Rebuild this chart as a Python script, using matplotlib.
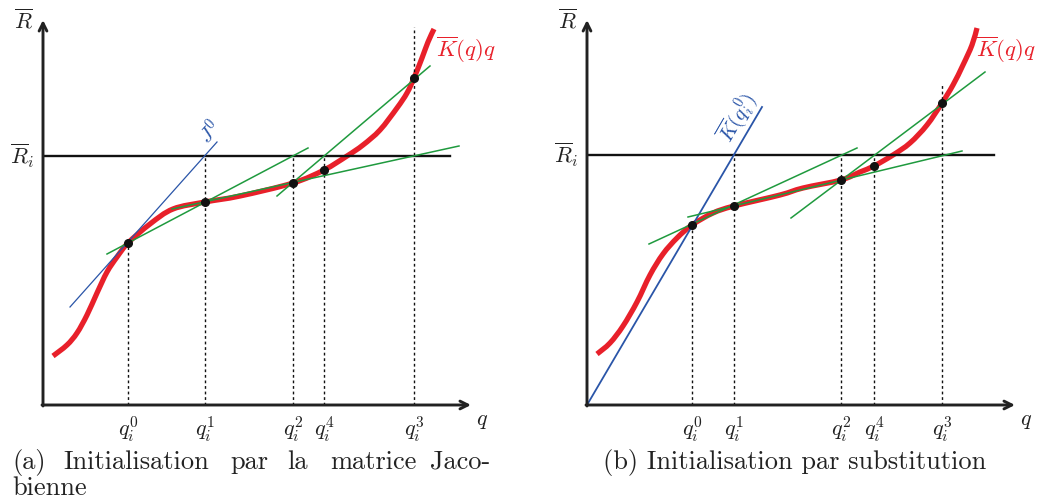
import numpy as np
import matplotlib.pyplot as plt
from matplotlib.path import Path
from matplotlib.patches import PathPatch

plt.rcParams['mathtext.fontset'] = 'cm'

# courbe K(q)q, panneau (a) : (q, R)
curve_a_q = [10, 24, 34, 44, 54, 64, 74, 85, 107, 130, 162, 197, 250, 281, 304, 320, 337, 354, 364, 371, 379, 385, 391]
curve_a_r = [49, 60, 72, 90, 112, 133, 148, 162, 181, 196, 203, 209, 222, 235, 249, 260, 275, 297, 312, 327, 347, 363, 376]
# courbe K(q)q, panneau (b)
curve_b_q = [10, 23, 36, 50, 63, 76, 90, 105, 126, 147, 193, 216, 254, 273, 287, 306, 323, 340, 355, 366, 376, 385, 390]
curve_b_r = [51, 62, 79, 103, 130, 151, 167, 180, 192, 199, 210, 217, 225, 233, 239, 250, 262, 280, 302, 320, 340, 360, 377]

iter_labels = ['$q_i^0$', '$q_i^1$', '$q_i^2$', '$q_i^4$', '$q_i^3$']
# itérés q_i^k, valeur sur la courbe, hauteur du pointillé
iter_a_q = [85, 162, 250, 281, 371]
iter_a_r = [162, 203, 222, 235, 327]
iter_a_top = [162, 249, 249, 249, 378]
iter_b_q = [105, 147, 254, 287, 355]
iter_b_r = [180, 199, 225, 239, 302]
iter_b_top = [180, 250, 250, 250, 322]

r_bar_a = 249
r_bar_b = 250

# droites bleues (J0 / K(q_i^0))
blue_a = ([27, 174], [98, 263])
blue_b = ([0, 175], [0, 298])
# droites vertes (sécantes)
green_a = [([64, 265], [151, 257]), ([129, 416], [196, 259]), ([234, 387], [209, 339])]
green_b = [([62, 270], [161, 257]), ([101, 375], [188, 254]), ([204, 398], [187, 333])]

RED = '#e8202a'
GREEN = '#1f9a3e'
BLUE = '#2a55a8'
AX = '#222222'

fig = plt.figure(figsize=(10.38, 5.01), dpi=100)


def smooth_path(xs, ys):
    # courbe de Bézier passant par les points lus (tangentes Catmull-Rom)
    p = np.column_stack([xs, ys]).astype(float)
    verts = [p[0]]
    codes = [Path.MOVETO]
    for i in range(len(p) - 1):
        p0 = p[max(i - 1, 0)]
        p1, p2 = p[i], p[i + 1]
        p3 = p[min(i + 2, len(p) - 1)]
        verts += [p1 + (p2 - p0) / 6, p2 - (p3 - p1) / 6, p2]
        codes += [Path.CURVE4] * 3
    return Path(verts, codes)


def panel(left, cq, cr, iq, ir, itop, rbar, blue, blue_lw, greens, blue_text, blue_pos, blue_rot, k_x):
    ax = fig.add_axes([left / 1038, 96 / 501, 440 / 1038, 395 / 501])
    ax.set_xlim(0, 440)
    ax.set_ylim(0, 395)
    ax.axis('off')
    # axes avec flèches
    ax.annotate('', xy=(0, 385), xytext=(0, -1),
                arrowprops=dict(arrowstyle='->', lw=2.1, color=AX, shrinkA=0, shrinkB=0,
                                mutation_scale=14))
    ax.annotate('', xy=(428, 0), xytext=(-1, 0),
                arrowprops=dict(arrowstyle='->', lw=2.1, color=AX, shrinkA=0, shrinkB=0,
                                mutation_scale=14))
    ax.plot([0, 407], [rbar, rbar], color='#111111', lw=1.7)
    for x, top in zip(iq, itop):
        ax.plot([x, x], [0, top], color='#111111', lw=1, ls=(0, (2, 2)))
    ax.plot(blue[0], blue[1], color=BLUE, lw=blue_lw)
    ax.add_patch(PathPatch(smooth_path(cq, cr), facecolor='none', edgecolor=RED,
                           lw=3.8, capstyle='butt'))
    for gx, gy in greens:
        ax.plot(gx, gy, color=GREEN, lw=1.1)
    ax.plot(iq, ir, 'o', color='#111111', ms=5.5)
    for x, lab in zip(iq, iter_labels):
        ax.text(x, -9, lab, ha='center', va='top', fontsize=16, color='#222222')
    ax.text(433, -6, '$q$', ha='left', va='top', fontsize=16, color='#222222')
    ax.text(-10, 385, r'$\overline{R}$', ha='right', va='center', fontsize=16, color='#222222')
    ax.text(-8, rbar, r'$\overline{R}_i$', ha='right', va='center', fontsize=16, color='#222222')
    ax.text(k_x, 355, r'$\overline{K}(q)q$', ha='left', va='center', fontsize=16.5, color=RED)
    ax.text(blue_pos[0], blue_pos[1], blue_text, ha='center', va='center', fontsize=15,
            color=BLUE, rotation=blue_rot, rotation_mode='anchor')
    return ax


panel(43, curve_a_q, curve_a_r, iter_a_q, iter_a_r, iter_a_top, r_bar_a,
      blue_a, 0.9, green_a, '$J^0$', (167, 273), 48, 393)
panel(587, curve_b_q, curve_b_r, iter_b_q, iter_b_r, iter_b_top, r_bar_b,
      blue_b, 1.3, green_b, r'$\overline{K}(q_i^0)$', (150, 288), 60, 389)

cap = dict(fontsize=19, family='cmr10', color='#222222', va='center')
words = ['(a)', 'Initialisation', 'par', 'la', 'matrice', 'Jaco-']
word_x = [12, 63, 230, 287, 330, 430]
for w, x in zip(words, word_x):
    fig.text(x / 1038, 1 - 462 / 501, w, ha='left', **cap)
fig.text(12 / 1038, 1 - 488 / 501, 'bienne', ha='left', **cap)
fig.text(795 / 1038, 1 - 462 / 501, '(b) Initialisation par substitution', ha='center', **cap)

fig.savefig('out.png', dpi=100)
